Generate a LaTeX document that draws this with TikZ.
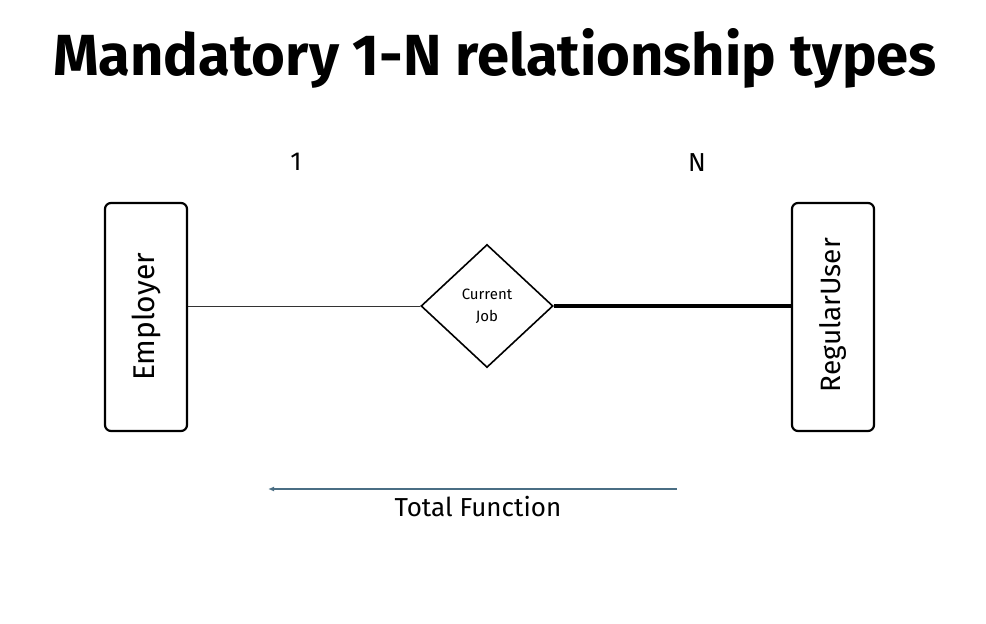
\documentclass[tikz,border=0pt]{standalone}
\usepackage{fontspec}
\setmainfont{Fira Sans}
\usetikzlibrary{shapes.geometric,arrows.meta}
\definecolor{arrowc}{HTML}{4A6E84}
\tikzset{
  entity/.style={draw, line width=2.2pt, rounded corners=6pt, minimum width=82pt, minimum height=228pt, inner sep=0pt},
  rel/.style={draw, line width=1.6pt, diamond, aspect=1.07, minimum width=132pt, minimum height=123pt, inner sep=0pt, align=center, font=\fontsize{15}{22}\selectfont},
  lbl/.style={font=\fontsize{26}{30}\selectfont},
}
\begin{document}
\begin{tikzpicture}[x=1pt,y=-1pt]
\useasboundingbox (0,0) rectangle (986,624);
\node[font=\fontsize{58}{64}\selectfont\bfseries] (title) at (495,58) {Mandatory 1-N relationship types};
\node[entity] (emp) at (146,317) {};
\node[rotate=90, font=\fontsize{30}{34}\selectfont] (empt) at (146,317) {Employer};
\node[entity] (usr) at (833,317) {};
\node[rotate=90, font=\fontsize{28}{32}\selectfont] (usrt) at (833,315) {RegularUser};
\node[rel] (job) at (487,306) {Current\\Job};
\draw[line width=0.9pt, black!80] (emp.east |- job.west) -- (job.west);
\draw[line width=4pt] (job.east) -- (usr.west |- job.east);
\node[lbl] (one) at (296,162) {1};
\node[lbl] (n) at (697,163) {N};
\coordinate (as) at (677,489);
\coordinate (ae) at (268,489);
\draw[arrowc, line width=1.2pt, -{Latex[length=6pt,width=5pt]}] (as) -- (ae);
\node[font=\fontsize{26}{30}\selectfont] (tf) at (478,507) {Total Function};
\end{tikzpicture}
\end{document}
